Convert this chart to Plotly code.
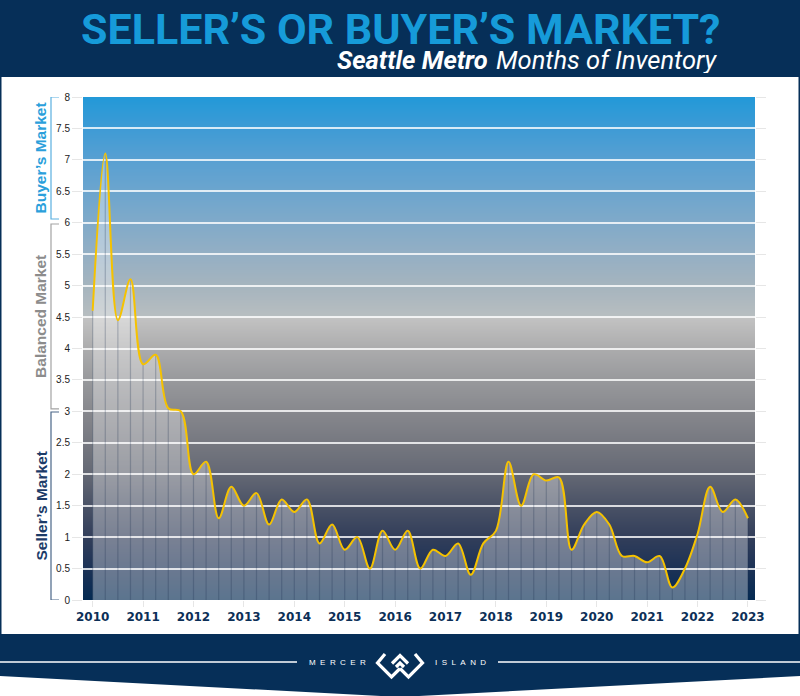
import zlib, struct, base64
import plotly.graph_objects as go

# ---------------- data ----------------
start_year = 2010
quarters_per_year = 4
months_of_inventory = [4.6, 7.1, 4.45, 5.1, 3.75, 3.9, 3.05, 3.0, 2.0, 2.2, 1.3, 1.8,
                       1.5, 1.7, 1.2, 1.6, 1.4, 1.6, 0.9, 1.2, 0.8, 1.0, 0.5, 1.1,
                       0.8, 1.1, 0.5, 0.8, 0.7, 0.9, 0.4, 0.9, 1.1, 2.2, 1.5, 2.0,
                       1.9, 1.95, 0.8, 1.2, 1.4, 1.2, 0.7, 0.7, 0.6, 0.7, 0.2, 0.5,
                       1.05, 1.8, 1.4, 1.6, 1.3]
year_ticks = list(range(2010, 2024))
year_labels = [str(y) for y in year_ticks]
zones = ["Buyer’s Market", "Balanced Market", "Seller’s Market"]
zone_ranges = [(6.06, 8.0), (3.04, 5.98), (0.0, 2.99)]

x_vals = [start_year + i / quarters_per_year for i in range(len(months_of_inventory))]

# ---------------- geometry helpers ----------------
W, H = 800, 696
L, R, T, B = 83, 755, 97, 600
X0, X1 = 2009.808, 2023.14


def px(x):
    return (x - L) / (R - L)


def py(y):
    return (B - y) / (B - T)


# ---------------- gradient background (PNG) ----------------
lower = [(0.0, (4, 42, 82)), (0.5, (28, 50, 86)), (1.0, (50, 62, 90)), (1.5, (74, 82, 102)),
         (2.0, (100, 104, 116)), (2.5, (118, 120, 128)), (3.0, (135, 136, 141)),
         (3.5, (152, 153, 156)), (4.0, (172, 172, 173)), (4.5, (195, 195, 195))]
upper = [(4.5, (184, 190, 192)), (5.0, (165, 180, 190)), (5.5, (148, 175, 196)),
         (6.0, (128, 170, 201)), (6.5, (108, 165, 206)), (7.0, (88, 160, 210)),
         (7.5, (62, 155, 213)), (8.0, (34, 153, 216))]


def interp(stops, v):
    for (a, ca), (b, cb) in zip(stops[:-1], stops[1:]):
        if a <= v <= b:
            t = (v - a) / (b - a)
            return tuple(int(round(ca[k] + (cb[k] - ca[k]) * t)) for k in range(3))
    return stops[-1][1] if v > stops[-1][0] else stops[0][1]


rows = []
nrows = B - T
for r in range(nrows):
    v = 8 - (r + 0.5) * 8 / nrows
    rows.append(interp(upper, v) if v >= 4.5 else interp(lower, v))


def make_png(rows, w=2):
    raw = b''.join(b'\x00' + bytes(rgb) * w for rgb in rows)

    def chunk(t, d):
        return struct.pack('>I', len(d)) + t + d + struct.pack('>I', zlib.crc32(t + d) & 0xffffffff)

    png = (b'\x89PNG\r\n\x1a\n'
           + chunk(b'IHDR', struct.pack('>IIBBBBB', w, len(rows), 8, 2, 0, 0, 0))
           + chunk(b'IDAT', zlib.compress(raw))
           + chunk(b'IEND', b''))
    return 'data:image/png;base64,' + base64.b64encode(png).decode()


bg_uri = make_png(rows)

# ---------------- traces ----------------
fig = go.Figure()

fig.add_trace(go.Scatter(
    x=x_vals, y=months_of_inventory, mode='lines',
    line=dict(shape='spline', smoothing=1, width=0, color='rgba(0,0,0,0)'),
    fill='tozeroy', fillcolor='rgba(255,255,255,0.35)', hoverinfo='skip', showlegend=False))

drop_x, drop_y = [], []
for xv, yv in zip(x_vals, months_of_inventory):
    drop_x += [xv, xv, None]
    drop_y += [0, yv, None]
fig.add_trace(go.Scatter(x=drop_x, y=drop_y, mode='lines',
                         line=dict(color='rgba(25,45,75,0.25)', width=1.2),
                         hoverinfo='skip', showlegend=False))

fig.add_trace(go.Scatter(
    x=x_vals, y=months_of_inventory, mode='lines',
    line=dict(shape='spline', smoothing=1, width=2, color='#f5c200'),
    showlegend=False, name='Months of Inventory'))

# ---------------- shapes ----------------
navy = '#062f58'
shapes = []
# header
shapes.append(dict(type='rect', xref='paper', yref='paper', x0=px(-2), x1=px(802), y0=py(77), y1=py(-2),
                   fillcolor=navy, line=dict(width=0), layer='below'))
# footer chevron band
path = 'M {},{} L {},{} L {},{} L {},{} L {},{} Z'.format(
    px(-2), py(634), px(802), py(634), px(802), py(676), px(400), py(697), px(-2), py(676))
shapes.append(dict(type='path', xref='paper', yref='paper', path=path,
                   fillcolor=navy, line=dict(width=0), layer='below'))
# side borders
for xa, xb in [(-1, 1.5), (798.5, 801)]:
    shapes.append(dict(type='rect', xref='paper', yref='paper', x0=px(xa), x1=px(xb), y0=py(634), y1=py(76),
                       fillcolor=navy, line=dict(width=0), layer='below'))
# footer white lines
for xa, xb in [(0, 297), (498, 800)]:
    shapes.append(dict(type='line', xref='paper', yref='paper', x0=px(xa), x1=px(xb), y0=py(662), y1=py(662),
                       line=dict(color='white', width=1.5)))
# logo (approximate)
logo_paths = [
    [(385, 654), (377.5, 663), (391.5, 677), (400, 668.5)],
    [(415, 654), (422.5, 663), (408.5, 677), (400, 668.5)],
    [(392, 663.5), (400, 655.5), (408, 663.5)],
    [(396, 667), (400, 663), (404, 667)],
]
for pts in logo_paths:
    p = 'M ' + ' L '.join('{},{}'.format(px(a), py(b)) for a, b in pts)
    shapes.append(dict(type='path', xref='paper', yref='paper', path=p,
                       line=dict(color='white', width=3.2)))
# zone brackets
bracket_colors = ['#5ab0e0', '#a3a3a3', '#4a6688']
for (lo, hi), col in zip(zone_ranges, bracket_colors):
    bx, tx = px(51), px(59)
    shapes.append(dict(type='path', xref='paper', yref='y',
                       path='M {},{} L {},{} L {},{} L {},{}'.format(tx, hi, bx, hi, bx, lo, tx, lo),
                       line=dict(color=col, width=1.2)))

# ---------------- annotations ----------------
ann = []
ann.append(dict(text='<b>SELLER’S OR BUYER’S MARKET?</b>', x=px(400), y=py(29), xref='paper', yref='paper',
                xanchor='center', yanchor='middle', showarrow=False, height=40, valign='middle',
                font=dict(family='Roboto', size=43, color='#169bd9')))
ann.append(dict(text='<b><i>Seattle Metro</i></b>', x=px(490), y=py(59.5),
                xref='paper', yref='paper', xanchor='right', yanchor='middle', showarrow=False,
                height=26, valign='middle',
                font=dict(family='Roboto', size=25.5, color='white')))
ann.append(dict(text='<i>Months of Inventory</i>', x=px(494), y=py(59.5),
                xref='paper', yref='paper', xanchor='left', yanchor='middle', showarrow=False,
                height=26, valign='middle',
                font=dict(family='Roboto', size=25.5, color='white')))
zone_colors = ['#2b9fdb', '#8c8c8c', '#1c3b68']
for name, (lo, hi), col in zip(zones, zone_ranges, zone_colors):
    ann.append(dict(text='<b>' + name + '</b>', x=px(40.5), y=(lo + hi) / 2, xref='paper', yref='y',
                    textangle=-90, xanchor='center', yanchor='middle', showarrow=False,
                    font=dict(family='Liberation Sans, Arial', size=15.5, color=col)))
sp = '\u00a0\u00a0'
ann.append(dict(text=sp.join('MERCER'), x=px(337.5), y=py(662), xref='paper', yref='paper',
                xanchor='center', yanchor='middle', showarrow=False,
                font=dict(family='Liberation Sans, Arial', size=8, color='white')))
ann.append(dict(text=sp.join('ISLAND'), x=px(460.5), y=py(662), xref='paper', yref='paper',
                xanchor='center', yanchor='middle', showarrow=False,
                font=dict(family='Liberation Sans, Arial', size=8, color='white')))

fig.update_layout(
    width=W, height=H,
    margin=dict(l=L, r=W - R, t=T, b=H - B, pad=0),
    paper_bgcolor='white', plot_bgcolor='rgba(0,0,0,0)',
    showlegend=False,
    shapes=shapes, annotations=ann,
    images=[dict(source=bg_uri, xref='paper', yref='paper', x=0, y=1, sizex=1, sizey=1,
                 sizing='stretch', xanchor='left', yanchor='top', layer='below')],
    xaxis=dict(range=[X0, X1], showgrid=False, zeroline=False, showline=False,
               tickmode='array', tickvals=year_ticks, ticktext=year_labels,
               ticks='outside', ticklen=6, tickcolor='#e6e6e6', tickwidth=1,
               tickfont=dict(family='DejaVu Sans', size=12, color='#0c2f57', weight='bold')),
    yaxis=dict(range=[0, 8], dtick=0.5, tick0=0, showgrid=True,
               gridcolor='rgba(255,255,255,0.8)', gridwidth=1.5, zeroline=False, showline=False,
               ticks='outside', ticklen=10, tickcolor='#e6e6e6', tickwidth=1, mirror='ticks',
               tickfont=dict(family='Liberation Sans, Arial', size=10, color='#222222')),
    hovermode=False,
)

fig.write_html('out.html', config={'displayModeBar': False},
               post_script="document.body.style.margin='0px';document.body.style.overflow='hidden';")
